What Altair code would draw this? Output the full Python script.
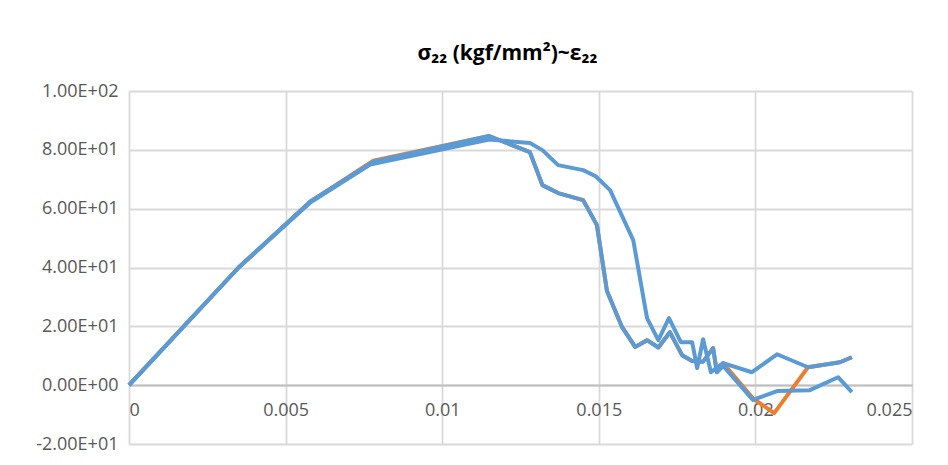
import altair as alt
import pandas as pd

# strain (x) and stress (y) values
A_x = [0, 0.0035, 0.0058, 0.0078, 0.0115, 0.0128, 0.0132, 0.0137, 0.0145, 0.01494, 0.01526,
       0.01574, 0.01616, 0.01654, 0.01690, 0.01727, 0.01766, 0.01798, 0.01833, 0.01865,
       0.01877, 0.01897, 0.01992, 0.02069, 0.02174, 0.02264, 0.02308]
A_y = [0, 40, 62.5, 76, 84.7, 79.2, 68, 65.3, 62.9, 54.4, 32,
       19.8, 13, 15.3, 12.8, 18, 10.2, 8.2, 8.0, 12.6,
       4.4, 6.5, -5, -2, -1.7, 2.7, -2.4]

B_x = [0, 0.0035, 0.0058, 0.0077, 0.0115, 0.0128, 0.0132, 0.0137, 0.0145, 0.0149, 0.01536,
       0.0161, 0.01654, 0.01690, 0.01724, 0.01762, 0.01798, 0.01814, 0.01833, 0.01858,
       0.01897, 0.01989, 0.02069, 0.02168, 0.0227, 0.02308]
B_y = [0, 40, 62.2, 75, 83.5, 82.3, 79.9, 74.8, 73.1, 71, 66.3,
       49.3, 22.8, 15.3, 22.8, 14.6, 14.6, 5.8, 15.6, 4.4,
       7.5, 4.4, 10.5, 6.1, 7.8, 9.5]

O_x = A_x[:22] + [0.01992, 0.02060, 0.02168, 0.0227, 0.02308]
O_y = A_y[:3] + [76.3] + A_y[4:21] + [7.5, -4.5, -9.5, 6.1, 7.8, 9.5]

x_ticks = [0, 0.005, 0.01, 0.015, 0.02, 0.025]
y_ticks = [-20, 0, 20, 40, 60, 80, 100]

rows = []
for name, xs, ys in [("o", O_x, O_y), ("a", A_x, A_y), ("b", B_x, B_y)]:
    for i, (xv, yv) in enumerate(zip(xs, ys)):
        rows.append({"s": name, "x": xv, "y": yv, "i": i})
df = pd.DataFrame(rows)

FONT = "Open Sans"

chart = alt.Chart(df).mark_line(strokeWidth=4, strokeJoin="round", clip=False).encode(
    x=alt.X("x:Q", scale=alt.Scale(domain=[0, 0.025], nice=False, zero=False),
            axis=alt.Axis(values=x_ticks, title=None, offset=-59, grid=True,
                          gridColor="#d9d9d9", gridWidth=1.8,
                          domainColor="#bfbfbf", domainWidth=2.2, ticks=False,
                          labelExpr="format(datum.value, '.3~f')",
                          labelFont=FONT, labelFontSize=18, labelColor="#595959",
                          labelPadding=16, zindex=0)),
    y=alt.Y("y:Q", scale=alt.Scale(domain=[-20, 100], nice=False, zero=False),
            axis=alt.Axis(values=y_ticks, title=None, grid=True,
                          gridColor="#d9d9d9", gridWidth=1.8, domain=False, ticks=False,
                          labelExpr="replace(replace(format(datum.value, '.2e'), 'e+', 'E+0'), '\u2212', '-')",
                          labelFont=FONT, labelFontSize=18, labelColor="#595959",
                          labelPadding=11, zindex=0)),
    color=alt.Color("s:N", scale=alt.Scale(domain=["o", "a", "b"],
                                            range=["#ED7D31", "#5B9BD5", "#5B9BD5"]),
                    legend=None),
    order=alt.Order("i:Q"),
).properties(
    width=783, height=353,
    title=alt.Title("σ₂₂ (kgf/mm²)~ε₂₂", font=FONT, fontSize=21, fontWeight="bold",
                    color="#000000", anchor="middle", offset=18, dx=-13),
    autosize=alt.AutoSizeParams(type="none"),
    padding={"left": 121, "top": 83, "right": 20, "bottom": 10},
).configure_view(stroke=None)

chart.save("out.html", embed_options={"renderer": "svg", "actions": False})
